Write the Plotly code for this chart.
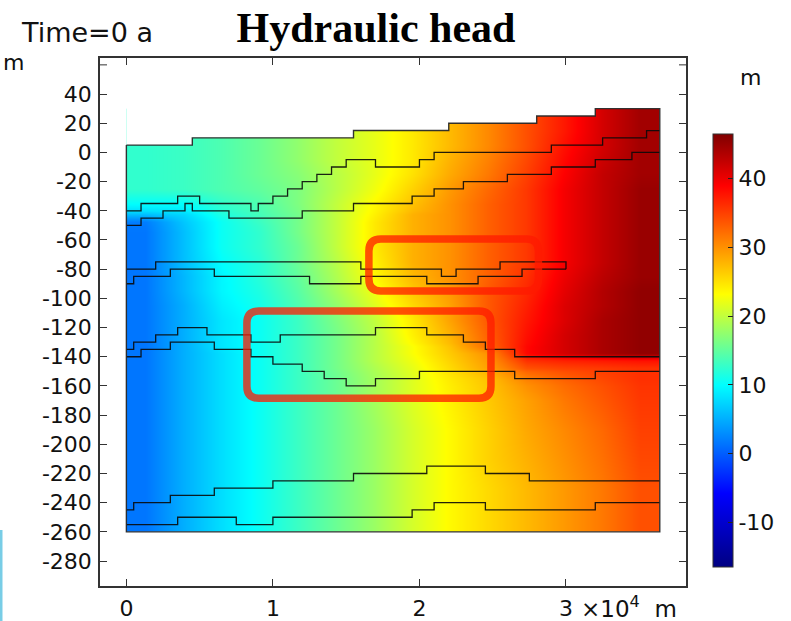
import plotly.graph_objects as go

# ---------------- data ----------------
# hydraulic head field (m): cell edges and cell values
x_edges = [0, 2600, 5200, 7800, 10400, 13000, 15600, 18200, 20800, 23400, 26000, 28600, 31200, 33800, 36400]
z_edges = [-260, -240, -220, -200, -180, -160, -150, -145, -140, -135, -130, -120, -110, -100,
           -90, -80, -70, -60, -50, -45, -40, -30, -20, -10, 0, 10, 20, 30]
head = [
    [1.5, 5, 8, 10.5, 13, 15.5, 18, 21, 23.5, 25.5, 27.5, 29.5, 31.5, 34],      # -250
    [1.5, 5, 8, 10.5, 13, 15.5, 18, 21, 23.5, 25.5, 27.5, 29.5, 31.5, 34],      # -230
    [1.5, 5, 8, 10.5, 13, 15.5, 18, 21, 23.5, 26, 28, 30, 32, 34.5],            # -210
    [1.5, 5, 8, 10.5, 13, 15.5, 18, 21, 23.5, 26, 28.5, 30.5, 32.5, 35],        # -190
    [1.5, 5, 8, 10.5, 13, 15.5, 18.5, 21.5, 24, 26.5, 29, 31.5, 33.5, 35.5],    # -170
    [1.5, 5, 8, 10.5, 13, 15.5, 18.5, 21.5, 24.5, 27, 31, 33, 34.5, 36],        # -155
    [1.5, 5, 8, 10.5, 13, 16, 19, 22, 25.5, 29, 34, 35, 35.5, 36],              # -147.5
    [1.5, 5, 8, 10.5, 13, 16, 19.5, 22.5, 26, 29.5, 36, 37, 37.5, 38],          # -142.5
    [1.5, 5, 8, 10.5, 13, 16, 19.5, 23, 26.5, 30, 38.5, 41.5, 44, 45.5],        # -137.5
    [1.5, 5, 8.5, 10.5, 13, 16, 19.5, 23, 27, 32.5, 38.5, 41.5, 44, 45.5],      # -132.5
    [1.5, 5, 8.5, 10.5, 13, 16, 19.5, 24, 28, 33, 38, 41.5, 44, 45.5],          # -125
    [1.5, 5, 8.5, 10.5, 13, 16.5, 20, 24.5, 29, 33.5, 37.5, 41, 44, 45.5],      # -115
    [1.5, 5, 9, 11, 14, 17.5, 21.5, 25.5, 29, 33.5, 37, 41, 43.5, 45.5],        # -105
    [1.5, 5.5, 9.5, 11.5, 14.5, 18.5, 22.5, 26.5, 29.5, 33.5, 36.5, 40.5, 43.5, 45.5],  # -95
    [1.5, 5.5, 9.5, 12, 15, 19, 23.5, 27.5, 30, 33, 36, 40, 43, 45],            # -85
    [1.5, 6, 10, 12, 15.5, 19.5, 24, 28, 30, 33, 35.5, 39.5, 42.5, 45],         # -75
    [1.5, 6, 10.5, 12.5, 15.5, 20, 24.5, 28, 30, 33, 35.5, 39.5, 42.5, 45],     # -65
    [1.5, 6, 10.5, 12.5, 16, 20, 24.5, 28, 30, 33, 35.5, 39.5, 42.5, 45],       # -55
    [2, 6.5, 10.5, 13, 16, 20, 24.5, 28, 30, 33, 35.5, 39.5, 42.5, 45],         # -47.5
    [6, 7.5, 11.5, 13.5, 16, 20, 24, 28, 30, 33, 35.5, 39.5, 42.5, 45],         # -42.5
    [10, 10, 12.5, 14, 16.5, 20, 23.5, 27, 30, 33, 35.5, 39.5, 42.5, 45],       # -35
    [12.5, 13, 14, 15, 16.5, 19.5, 22.5, 26, 29.5, 32.5, 35.5, 39.5, 42.5, 45], # -25
    [12.5, 13, 14, 15.5, 17, 19.5, 22, 25, 28.5, 31.5, 35, 39, 42.5, 44.5],     # -15
    [12.5, 13, 14, 15.5, 17.5, 20, 22, 24.5, 28, 31, 34.5, 38.5, 42, 44.5],     # -5
    [12.5, 13, 14, 15.5, 17.5, 20, 22, 24.5, 27.5, 30.5, 34, 38, 41.5, 44.5],   # 5
    [12.5, 13, 14, 15.5, 17.5, 20, 22, 24.5, 27.5, 30.5, 34, 37.5, 41.5, 44.5], # 15
    [12.5, 13, 14, 15.5, 17.5, 20, 22, 24.5, 27.5, 30.5, 34, 37.5, 41.5, 44.5], # 25
]
head_min, head_max = -16.5, 46.5

# domain geometry (stepwise boundaries: x breakpoints, z levels)
top_x = [0, 4500, 15500, 22000, 28000, 32000, 36400]
top_z = [5, 10, 15, 20, 25, 30, 30]
bottom_z = -260
right_x = 36400

layers = {
    "L2": ([0, 1000, 3500, 5000, 8500, 9000, 10000, 11000, 12000, 13000, 14000, 15000, 17000, 20000, 21000, 29000, 32500, 35500, 36400],
           [-40, -35, -30, -35, -40, -35, -30, -25, -20, -15, -10, -5, -10, -5, 0, 5, 10, 15, 15]),
    "L3": ([0, 1000, 2500, 4000, 4500, 7000, 12000, 15500, 19500, 21000, 23000, 26000, 29000, 32000, 34500, 36400],
           [-50, -45, -40, -35, -40, -45, -40, -35, -30, -25, -20, -15, -10, -5, 0, 0]),
    "L4": ([0, 2000, 16000, 21500, 22500, 25500, 30000, 30000],
           [-80, -75, -80, -85, -80, -75, -75, -80]),
    "L5": ([0, 500, 3000, 6000, 12500, 16000, 20500, 24000, 27000, 30000],
           [-90, -85, -80, -85, -90, -85, -90, -85, -80, -80]),
    "L6": ([0, 500, 2000, 3500, 5500, 8500, 10500, 17000, 20500, 23000, 24500, 26500, 36400],
           [-135, -130, -125, -120, -125, -130, -125, -120, -125, -130, -135, -140, -140]),
    "L7": ([0, 1000, 3000, 6000, 8500, 10000, 12000, 13500, 15000, 17000, 20000, 26500, 32000, 36400],
           [-140, -135, -130, -135, -140, -145, -150, -155, -160, -155, -150, -155, -150, -150]),
    "L8": ([0, 500, 3000, 6000, 10000, 15500, 20500, 24500, 27500, 36400],
           [-245, -240, -235, -230, -225, -220, -215, -220, -225, -225]),
    "L9": ([0, 3500, 7500, 10000, 19500, 21000, 24500, 32000, 36400],
           [-255, -250, -255, -250, -245, -240, -245, -240, -240]),
}

y_ticks = [40, 20, 0, -20, -40, -60, -80, -100, -120, -140, -160, -180, -200, -220, -240, -260, -280]
y_extra_tick = 60
x_ticks = [0, 10000, 20000, 30000]
x_tick_text = ["0", "1", "2", "3"]
cb_ticks = [40, 30, 20, 10, 0, -10]

# highlight boxes (x0, x1, z_top, z_bottom)
boxes = [(16550, 28120, -59.4, -95.0), (8225, 24880, -108.7, -168.5)]


def steps(xs, zs):
    px, pz = [xs[0]], [zs[0]]
    for i in range(1, len(xs)):
        px += [xs[i], xs[i]]
        pz += [zs[i - 1], zs[i]]
    return px, pz


def lab(v):
    return str(v)


jet = [[0, "rgb(0,0,130)"], [0.17, "rgb(0,0,255)"], [0.42, "rgb(0,255,255)"],
       [0.63, "rgb(255,255,0)"], [0.88, "rgb(255,0,0)"], [1, "rgb(128,0,0)"]]

FONT = "DejaVu Sans"
fig = go.Figure()

fig.add_trace(go.Heatmap(
    x=x_edges, y=z_edges, z=head, zmin=head_min, zmax=head_max, zsmooth="best",
    colorscale=jet, hoverinfo="skip",
    colorbar=dict(
        x=(713 - 100) / 586, xanchor="left", y=(586 - 567) / 528, yanchor="bottom",
        len=(567 - 134) / 528, lenmode="fraction", thickness=20, thicknessmode="pixels",
        outlinewidth=1, outlinecolor="#333", ticks="inside", ticklen=5, tickcolor="#222",
        tickvals=cb_ticks, ticktext=[lab(v) for v in cb_ticks],
        tickfont=dict(family=FONT, size=22, color="#111"), xpad=0, ypad=0,
    ),
))

# white mask above the stepped top boundary
tx, tz = steps(top_x, top_z)
fig.add_trace(go.Scatter(
    x=tx + [right_x, 0, 0], y=tz + [40, 40, top_z[0]], mode="lines", fill="toself",
    fillcolor="white", line=dict(width=0, color="white"), hoverinfo="skip", showlegend=False,
))

# layer boundaries
for name, (lx, lz) in layers.items():
    sx, sz = steps(lx, lz)
    fig.add_trace(go.Scatter(x=sx, y=sz, mode="lines", line=dict(color="rgba(10,10,10,0.9)", width=1.3),
                             hoverinfo="skip", showlegend=False))

# domain outline
ox = tx + [right_x, 0, 0]
oz = tz + [bottom_z, bottom_z, top_z[0]]
fig.add_trace(go.Scatter(x=ox, y=oz, mode="lines", line=dict(color="rgba(40,40,40,0.95)", width=1.4),
                         hoverinfo="skip", showlegend=False))

# rounded highlight rectangles
rx, rz = 820, 8.2
shapes = []
for (x0, x1, zt, zb) in boxes:
    p = (f"M {x0+rx},{zt} L {x1-rx},{zt} Q {x1},{zt} {x1},{zt-rz} L {x1},{zb+rz} "
         f"Q {x1},{zb} {x1-rx},{zb} L {x0+rx},{zb} Q {x0},{zb} {x0},{zb+rz} "
         f"L {x0},{zt-rz} Q {x0},{zt} {x0+rx},{zt} Z")
    shapes.append(dict(type="path", path=p, xref="x", yref="y",
                       line=dict(color="rgba(255,25,0,0.75)", width=7.5), layer="above"))
# unlabeled tick at z = 60 on both sides
for xa, xb in [(0, 7 / 586), (1 - 7 / 586, 1)]:
    shapes.append(dict(type="line", xref="paper", yref="y", x0=xa, x1=xb, y0=y_extra_tick, y1=y_extra_tick,
                       line=dict(color="#333", width=1)))
# thin light-blue strip at the very left edge of the picture
shapes.append(dict(type="rect", xref="paper", yref="paper",
                   x0=(0 - 100) / 586, x1=(2.5 - 100) / 586, y0=(586 - 621) / 528, y1=(586 - 530) / 528,
                   fillcolor="rgb(120,205,230)", line=dict(width=0)))

axis_common = dict(showline=True, linecolor="#333", linewidth=1.5, mirror="ticks", ticks="inside",
                   ticklen=7, tickcolor="#333", showgrid=False, zeroline=False, automargin=False,
                   tickfont=dict(family=FONT, size=22, color="#111"))

fig.update_layout(
    width=791, height=621, margin=dict(l=100, r=105, t=58, b=35, autoexpand=False),
    paper_bgcolor="white", plot_bgcolor="white", showlegend=False,
    title=dict(text="Hydraulic head", x=376 / 791, xanchor="center", y=1 - 27 / 621, yanchor="middle",
               xref="container", yref="container",
               font=dict(family="Liberation Serif", size=42, color="black", weight="bold")),
    xaxis=dict(range=[-1800, 38190], tickvals=x_ticks, ticktext=x_tick_text,
               ticklabelstandoff=2, **axis_common),
    yaxis=dict(range=[-297.1, 64.7], tickvals=y_ticks,
               ticktext=[lab(v) for v in y_ticks], ticklabelstandoff=2, **axis_common),
    shapes=shapes,
    annotations=[
        dict(text="Time=0 a", xref="paper", yref="paper", x=(19 - 100) / 586, y=(586 - 33) / 528,
             xanchor="left", yanchor="middle", showarrow=False, font=dict(family=FONT, size=27, color="#111")),
        dict(text="m", xref="paper", yref="paper", x=(1 - 100) / 586, y=(586 - 62) / 528,
             xanchor="left", yanchor="middle", showarrow=False, font=dict(family=FONT, size=22, color="#111")),
        dict(text="m", xref="paper", yref="paper", x=(750 - 100) / 586, y=(586 - 77) / 528,
             xanchor="center", yanchor="middle", showarrow=False, font=dict(family=FONT, size=22, color="#111")),
        dict(text="\u00d710<sup>4</sup>\u00a0\u00a0m", xref="paper", yref="paper", x=(579 - 100) / 586,
             y=(586 - 607) / 528, xanchor="left", yanchor="middle", showarrow=False,
             font=dict(family=FONT, size=23, color="#111")),
    ],
)

fig.write_html("out.html", config={"displayModeBar": False},
               post_script="document.body.style.margin='0px';")
